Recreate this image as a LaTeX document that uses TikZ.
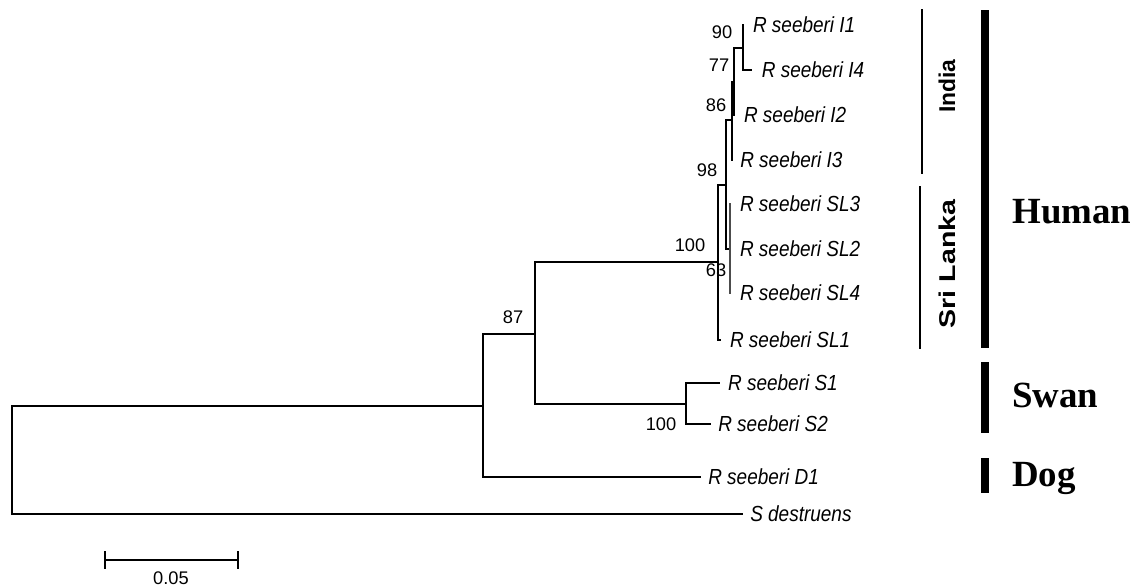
\documentclass[tikz,border=0pt]{standalone}
\usepackage{fontspec}
\setmainfont{Liberation Sans}
\newfontfamily\hostfont{Liberation Serif}
\usetikzlibrary{positioning}
\newcommand{\tall}[1]{\scalebox{1}[1.15]{#1}}

\begin{document}
\begin{tikzpicture}[x=0.02cm,y=-0.02cm,line cap=rect,
  branch/.style={line width=1.1pt},
  sldot/.style={line width=1.3pt,gray!60!black,dash pattern=on 0.5pt off 0.5pt},
  taxon/.style={inner sep=0pt,font=\fontsize{10.8}{13}\selectfont\itshape},
  boot/.style={inner sep=0pt,font=\fontsize{10.4}{12}\selectfont},
  region/.style={inner sep=0pt,rotate=90,font=\fontsize{13}{15}\selectfont\bfseries},
  host/.style={inner sep=0pt,anchor=west,font=\fontsize{21}{24}\selectfont\hostfont\bfseries},
  hostbar/.style={line width=4pt,line cap=butt},
  regbar/.style={line width=0.6pt}]
\useasboundingbox (0,0) rectangle (1134,586);
% internal nodes
\coordinate (root) at (12,460);
\coordinate (n1) at (483,406);
\coordinate (n87) at (535,334);
\coordinate (nH) at (718,262);
\coordinate (n98) at (726,185);
\coordinate (nI) at (732,120);
\coordinate (nI2) at (734,82);
\coordinate (nI1) at (743,48);
\coordinate (nS) at (686,404);
% tips
\coordinate (I1) at (743,25);
\coordinate (I4) at (751,70);
\coordinate (I2) at (734,115);
\coordinate (I3) at (732,160);
\coordinate (SL3) at (730,204);
\coordinate (SL2) at (730,249);
\coordinate (SL4) at (730,293);
\coordinate (SL1) at (720,340);
\coordinate (S1) at (719,383);
\coordinate (S2) at (710,424);
\coordinate (D1) at (700,477);
\coordinate (Sd) at (742,514);
% branches
\draw[branch] (root) |- (n1);
\draw[branch] (root) |- (Sd);
\draw[branch] (n1) |- (n87);
\draw[branch] (n1) |- (D1);
\draw[branch] (n87) |- (nH);
\draw[branch] (n87) |- (nS);
\draw[branch] (nS) |- (S1);
\draw[branch] (nS) |- (S2);
\draw[branch] (nH) |- (n98);
\draw[branch] (nH) |- (SL1);
\draw[branch] (n98) |- (nI);
\draw[branch] (n98) |- (SL2);
\draw[sldot] (SL3) -- (SL4);
\draw[branch] (nI) |- (nI2);
\draw[branch] (nI) |- (I3);
\draw[branch] (nI2) |- (nI1);
\draw[branch] (nI2) |- (I2);
\draw[branch] (nI1) |- (I1);
\draw[branch] (nI1) |- (I4);
% taxa
\node[taxon,right=5.5pt of I1] (tI1) {\tall{R seeberi I1}};
\node[taxon,right=6pt of I4] (tI4) {\tall{R seeberi I4}};
\node[taxon,right=5.5pt of I2] (tI2) {\tall{R seeberi I2}};
\node[taxon,right=4.5pt of I3] (tI3) {\tall{R seeberi I3}};
\node[taxon,right=5.5pt of SL3] (tSL3) {\tall{R seeberi SL3}};
\node[taxon,right=5.5pt of SL2] (tSL2) {\tall{R seeberi SL2}};
\node[taxon,right=5.5pt of SL4] (tSL4) {\tall{R seeberi SL4}};
\node[taxon,right=5.5pt of SL1] (tSL1) {\tall{R seeberi SL1}};
\node[taxon,right=5pt of S1] (tS1) {\tall{R seeberi S1}};
\node[taxon,right=4.5pt of S2] (tS2) {\tall{R seeberi S2}};
\node[taxon,right=4.5pt of D1] (tD1) {\tall{R seeberi D1}};
\node[taxon,right=4.5pt of Sd] (tSd) {\tall{S destruens}};
% bootstrap values
\node[boot] (b90) at (722,32) {90};
\node[boot] (b77) at (719,65) {77};
\node[boot] (b86) at (716,105) {86};
\node[boot] (b98) at (707,170) {98};
\node[boot] (b100h) at (690,245) {100};
\node[boot] (b63) at (716,270) {63};
\node[boot] (b87) at (513,317) {87};
\node[boot] (b100s) at (661,424) {100};
% regions and hosts
\draw[regbar] (922,10) -- (922,173);
\draw[regbar] (920,187) -- (920,348);
\node[region] (india) at (947,86) {India};
\node[region] (srilanka) at (947,264) {\scalebox{1.25}[1]{Sri Lanka}};
\draw[hostbar] (985,10) -- (985,348);
\draw[hostbar] (985,362) -- (985,433);
\draw[hostbar] (985,458) -- (985,493);
\node[host] (human) at (1012,212) {Human};
\node[host] (swan) at (1012,395) {Swan};
\node[host] (dog) at (1012,478) {Dog};
% scale bar
\coordinate (sbl) at (105,560);
\coordinate (sbr) at (238,560);
\draw[line width=1pt] (sbl) -- (sbr);
\draw[line width=1pt] ([yshift=4.5pt]sbl) -- ([yshift=-4.5pt]sbl);
\draw[line width=1pt] ([yshift=4.5pt]sbr) -- ([yshift=-4.5pt]sbr);
\node[boot] (sblabel) at (171,578) {0.05};
\end{tikzpicture}
\end{document}
